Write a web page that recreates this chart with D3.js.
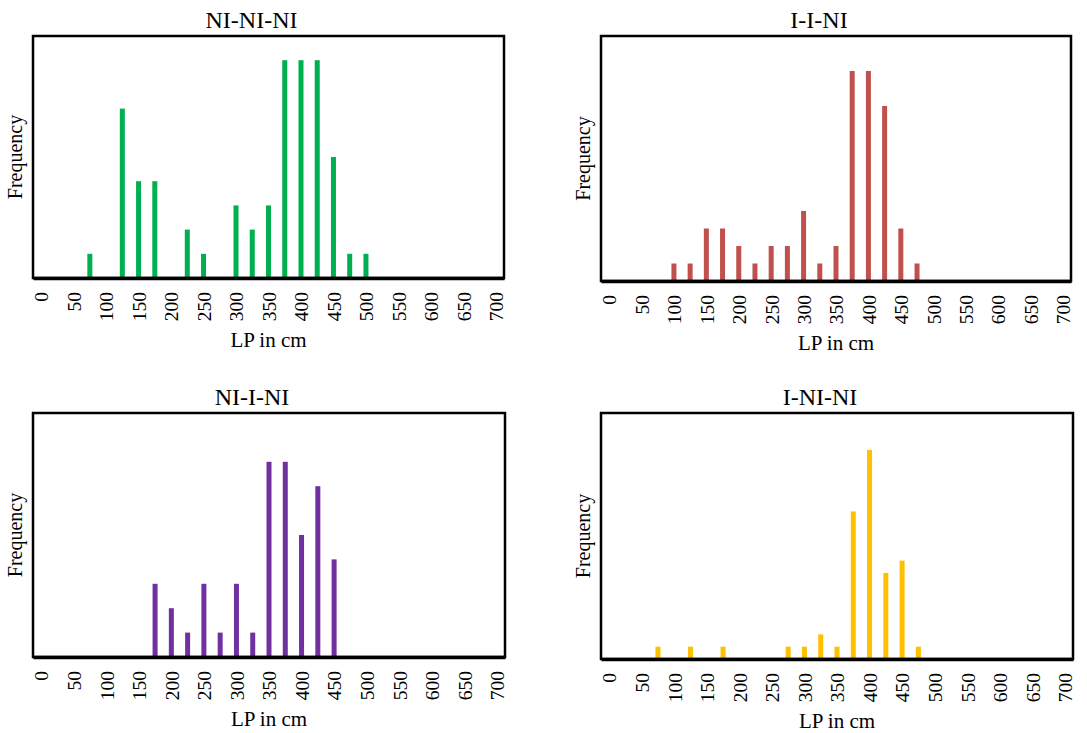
<!DOCTYPE html>
<html>
<head>
<meta charset="utf-8">
<script src="https://cdn.jsdelivr.net/npm/d3@7"></script>
<style>
  body { margin: 0; background: #fff; }
  svg { display: block; font-family: "Liberation Serif", "Times New Roman", serif; }
</style>
</head>
<body>
<div id="chart"></div>
<script>
// LP classes (cm), one bar slot every 25
const lengths = [0, 25, 50, 75, 100, 125, 150, 175, 200, 225, 250, 275, 300, 325, 350,
  375, 400, 425, 450, 475, 500, 525, 550, 575, 600, 625, 650, 675, 700];
const tickLabels = [0, 50, 100, 150, 200, 250, 300, 350, 400, 450, 500, 550, 600, 650, 700];

const panelNames = ["NI-NI-NI", "I-I-NI", "NI-I-NI", "I-NI-NI"];
const panelColors = ["#00b050", "#c0504d", "#7030a0", "#ffc000"];
const panelMax = [10, 14, 10, 20];

const nininiFreq = [0, 0, 0, 1, 0, 7, 4, 4, 0, 2, 1, 0, 3, 2, 3, 9, 9, 9, 5, 1, 1, 0, 0, 0, 0, 0, 0, 0, 0];
const iiniFreq = [0, 0, 0, 0, 1, 1, 3, 3, 2, 1, 2, 2, 4, 1, 2, 12, 12, 10, 3, 1, 0, 0, 0, 0, 0, 0, 0, 0, 0];
const niiniFreq = [0, 0, 0, 0, 0, 0, 0, 3, 2, 1, 3, 1, 3, 1, 8, 8, 5, 7, 4, 0, 0, 0, 0, 0, 0, 0, 0, 0, 0];
const ininiFreq = [0, 0, 0, 1, 0, 1, 0, 1, 0, 0, 0, 1, 1, 2, 1, 12, 17, 7, 8, 1, 0, 0, 0, 0, 0, 0, 0, 0, 0];

const series = [nininiFreq, iiniFreq, niiniFreq, ininiFreq];

const width = 1087;
const height = 733;

// plot boxes of the 4 panels
const boxes = [
  { x0: 33, x1: 504, y0: 36, y1: 278 },
  { x0: 601, x1: 1071, y0: 36, y1: 281 },
  { x0: 33, x1: 505, y0: 413, y1: 657 },
  { x0: 601, x1: 1073, y0: 413, y1: 659 }
];

const svg = d3.select("#chart")
  .append("svg")
  .attr("width", width)
  .attr("height", height);

panelNames.forEach((name, k) => {
  const b = boxes[k];
  const values = series[k];
  const g = svg.append("g");

  const x = d3.scalePoint()
    .domain(lengths)
    .range([b.x0, b.x1])
    .padding(0.5);

  const y = d3.scaleLinear()
    .domain([0, panelMax[k]])
    .range([b.y1, b.y0]);

  const barW = 5;

  g.selectAll("rect.bar")
    .data(lengths.map((l, i) => ({ l, v: values[i] })).filter((d) => d.v > 0))
    .join("rect")
    .attr("class", "bar")
    .attr("x", (d) => x(d.l) - barW / 2)
    .attr("width", barW)
    .attr("y", (d) => y(d.v))
    .attr("height", (d) => y(0) - y(d.v))
    .attr("fill", panelColors[k]);

  // frame
  g.append("rect")
    .attr("x", b.x0)
    .attr("y", b.y0)
    .attr("width", b.x1 - b.x0)
    .attr("height", b.y1 - b.y0)
    .attr("fill", "none")
    .attr("stroke", "#000")
    .attr("stroke-width", 2.5);

  // x axis, labels only
  const xAxis = d3.axisBottom(x)
    .tickValues(tickLabels)
    .tickSize(0)
    .tickPadding(0);

  const ax = g.append("g")
    .attr("transform", `translate(0,${b.y1})`)
    .call(xAxis);

  ax.select(".domain")
    .attr("stroke", "#000")
    .attr("stroke-width", 3.5);

  ax.selectAll("text")
    .attr("font-family", "'Liberation Serif', 'Times New Roman', serif")
    .attr("font-size", 19.5)
    .attr("fill", "#000")
    .attr("text-anchor", "end")
    .attr("y", 0)
    .attr("dy", "0.35em")
    .attr("transform", "translate(0,14) rotate(-90)");

  // titles
  g.append("text")
    .attr("x", (b.x0 + b.x1) / 2 - 17)
    .attr("y", b.y0 - 8)
    .attr("text-anchor", "middle")
    .attr("font-size", 24)
    .text(name);

  g.append("text")
    .attr("transform", `translate(${b.x0 - 11},${(b.y0 + b.y1) / 2}) rotate(-90)`)
    .attr("text-anchor", "middle")
    .attr("font-size", 20)
    .text("Frequency");

  g.append("text")
    .attr("x", (b.x0 + b.x1) / 2)
    .attr("y", b.y1 + 69)
    .attr("text-anchor", "middle")
    .attr("font-size", 21)
    .text("LP in cm");
});
</script>
</body>
</html>
